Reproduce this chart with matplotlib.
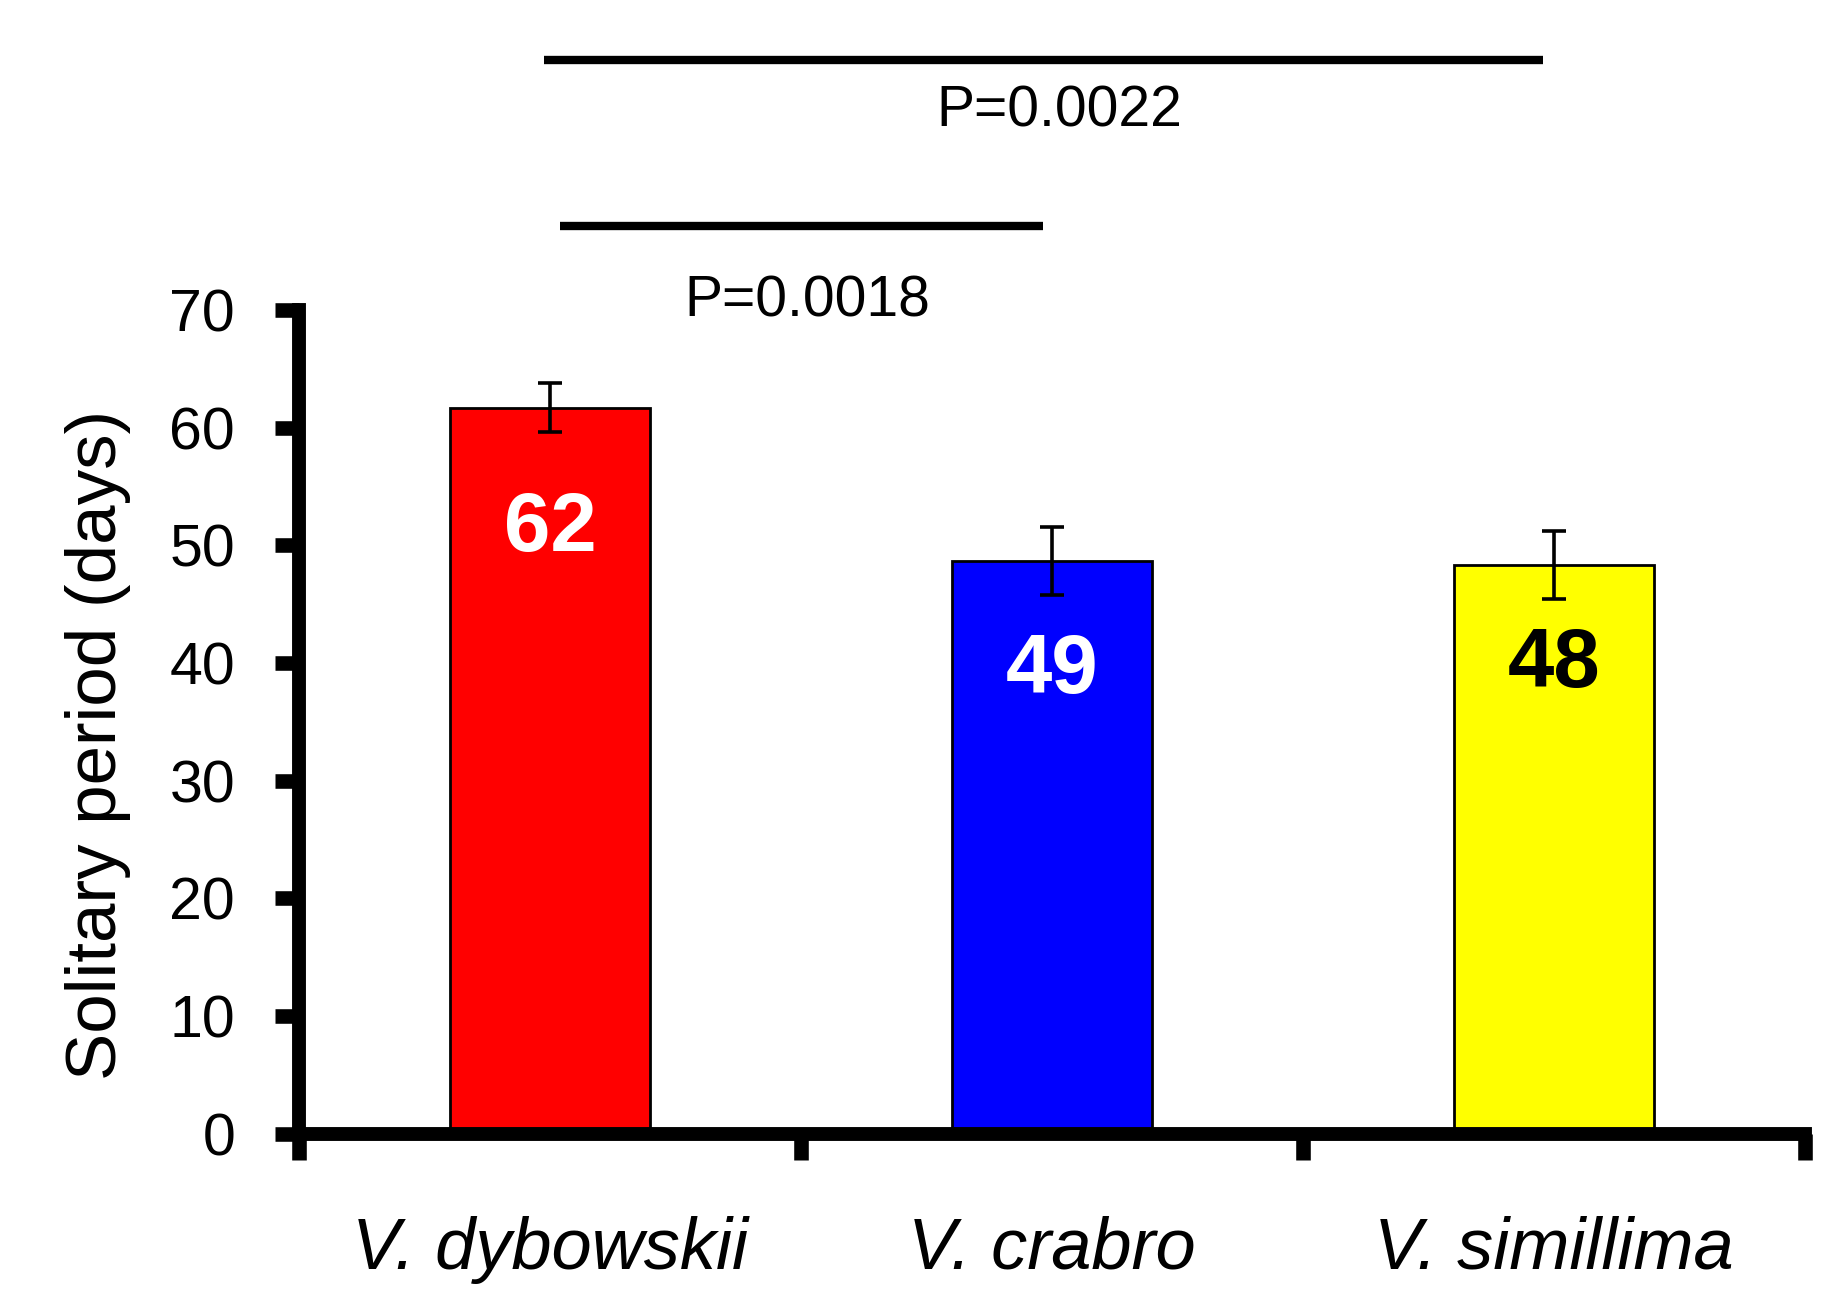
import matplotlib
matplotlib.use("Agg")
import matplotlib.pyplot as plt
import numpy as np

plt.rcParams['font.family'] = ['Liberation Sans', 'DejaVu Sans']

species = ["V. dybowskii", "V. crabro", "V. simillima"]
means = [61.7, 48.65, 48.3]
errors = [2.1, 2.9, 2.9]
bar_labels = ["62", "49", "48"]
bar_colors = ["#ff0000", "#0000ff", "#ffff00"]
label_colors = ["white", "white", "black"]
yticks = [0, 10, 20, 30, 40, 50, 60, 70]
comparisons = [("P=0.0022", -0.012, 1.979, 91.24, 1.014, 86.9),
               ("P=0.0018", 0.02, 0.983, 77.14, 0.512, 70.75)]

fig = plt.figure(figsize=(18.43, 12.89), dpi=100)
ax = fig.add_axes([0.1622, 0.1205, 0.9794 - 0.1622, 0.7595 - 0.1205])

x = np.arange(len(species))
ax.bar(x, means, width=0.40, color=bar_colors, edgecolor='black', linewidth=2, zorder=2)
ax.errorbar(x, means, yerr=errors, fmt='none', ecolor='black', elinewidth=2.6,
            capsize=8.3, capthick=2.6, zorder=3)

label_drop = [10.3, 9.35, 8.5]
for xi, m, d, lab, c in zip(x, means, label_drop, bar_labels, label_colors):
    ax.text(xi, m - d, lab, ha='center', va='center', color=c,
            fontsize=60, fontweight='bold', zorder=4)

for txt, x0, x1, yl, xt, yt in comparisons:
    ax.plot([x0, x1], [yl, yl], color='black', lw=6, clip_on=False, solid_capstyle='butt')
    ax.text(xt, yt, txt, ha='center', va='center', fontsize=41, clip_on=False)

ax.set_xlim(-0.5, 2.5)
ax.set_ylim(0, 70)
for s in ['top', 'right']:
    ax.spines[s].set_visible(False)
for s in ['left', 'bottom']:
    ax.spines[s].set_linewidth(10)
ax.spines['left'].set_bounds(0, 70)

ax.set_yticks(yticks)
ax.set_yticklabels([str(v) for v in yticks], fontsize=42.5)
ax.tick_params(axis='y', direction='out', length=17, width=10.5, pad=29)

ax.set_xticks(x)
ax.set_xticklabels(species, fontsize=52, fontstyle='italic')
ax.tick_params(axis='x', which='major', length=0, pad=59)
ax.set_xticks([-0.5, 0.5, 1.5, 2.5], minor=True)
ax.tick_params(axis='x', which='minor', direction='out', length=18.5, width=10.5)

fig.text(98 / 1843, 0.422, "Solitary period (days)", rotation=90,
         ha='center', va='center', fontsize=51)

fig.savefig("out.png", dpi=100)
